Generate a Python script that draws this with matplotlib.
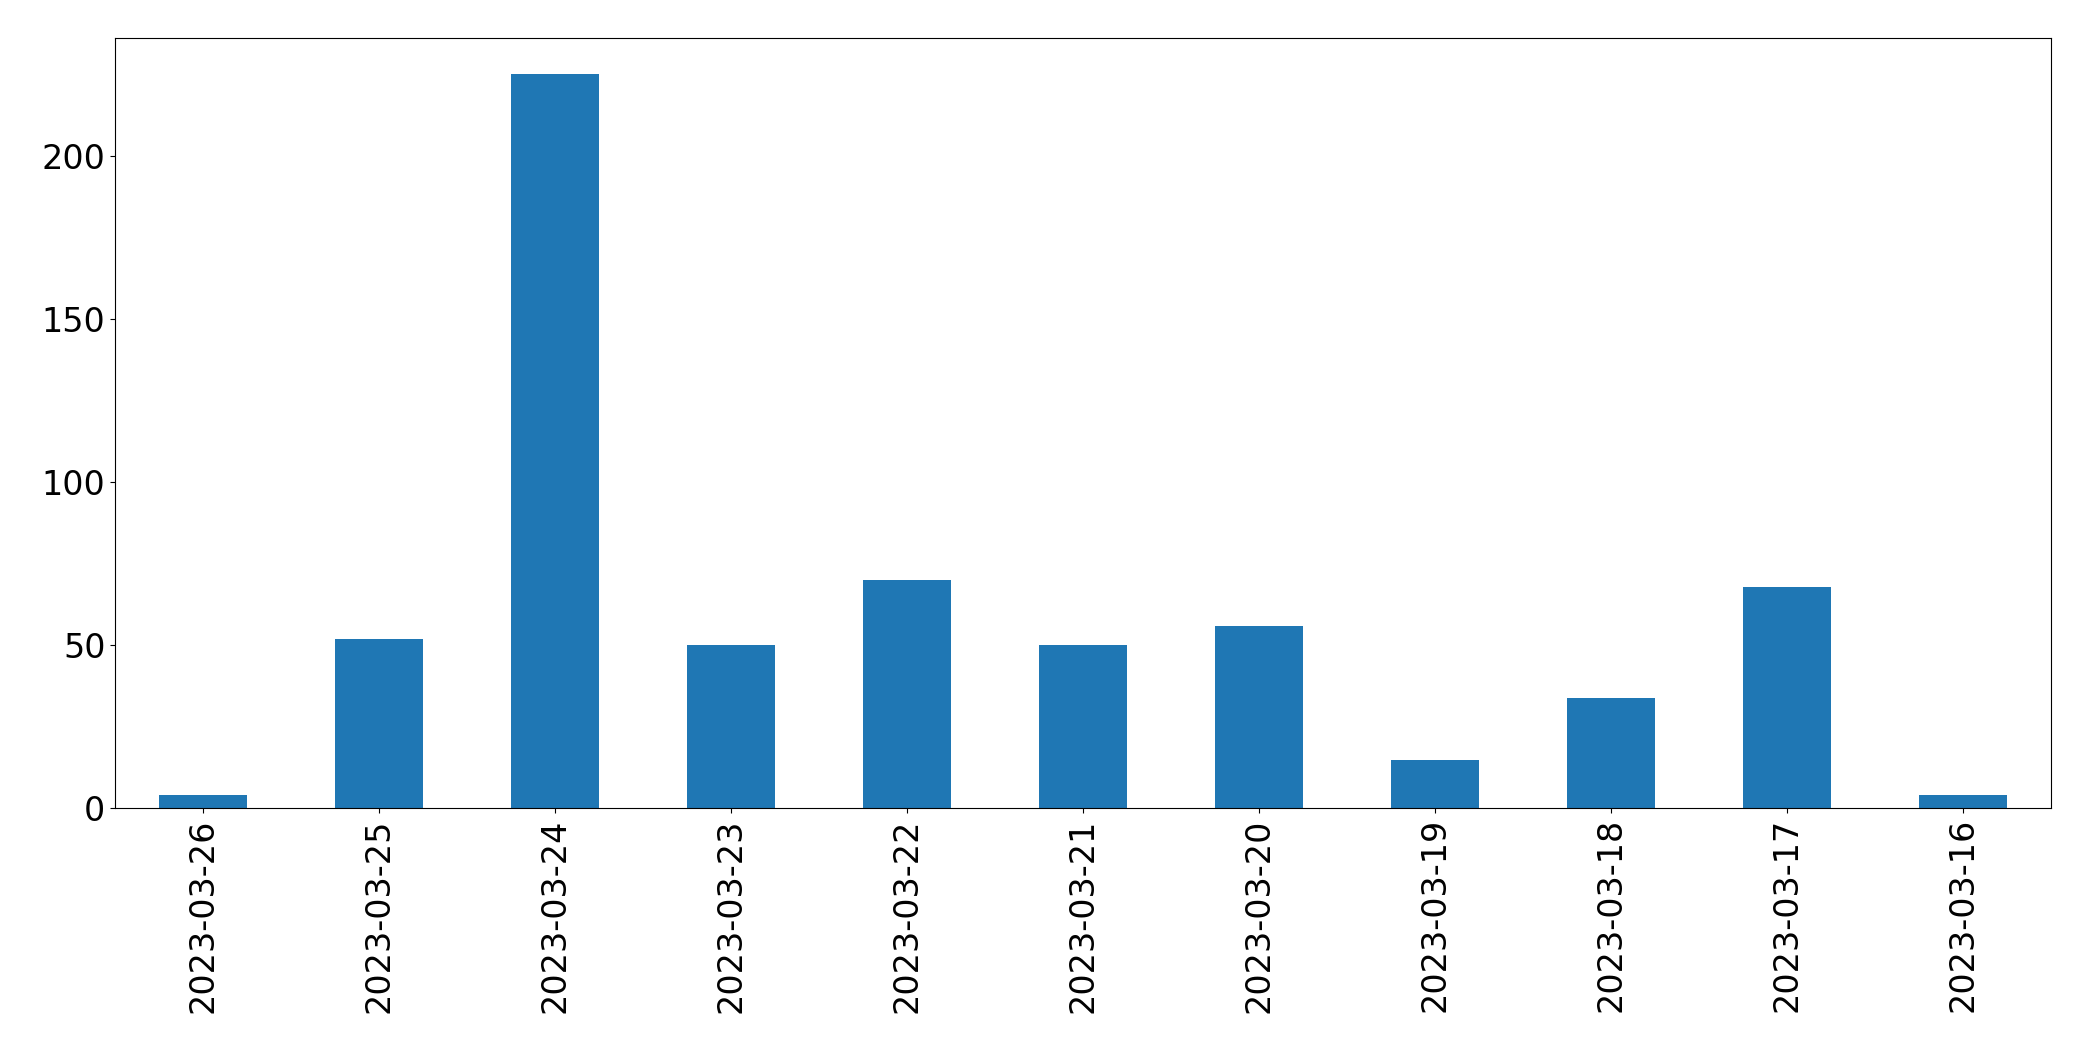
import matplotlib
matplotlib.use("Agg")
import matplotlib.pyplot as plt

dates = ["2023-03-26","2023-03-25","2023-03-24","2023-03-23","2023-03-22","2023-03-21",
         "2023-03-20","2023-03-19","2023-03-18","2023-03-17","2023-03-16"]
counts = [4, 52, 225, 50, 70, 50, 56, 15, 34, 68, 4]

fig = plt.figure(figsize=(20.93, 10.61), dpi=100)
ax = fig.add_axes([0.055, 0.238, 0.925, 0.726])
x = range(len(dates))
ax.bar(x, counts, width=0.5, color="#1f77b4")
ax.set_xticks(list(x))
ax.set_xticklabels(dates, rotation=90)
ax.set_xlim(-0.5, len(dates) - 0.5)
ax.set_ylim(0, 236)
ax.set_yticks([0, 50, 100, 150, 200])
ax.tick_params(labelsize=24)
fig.savefig("out.png", dpi=100)
